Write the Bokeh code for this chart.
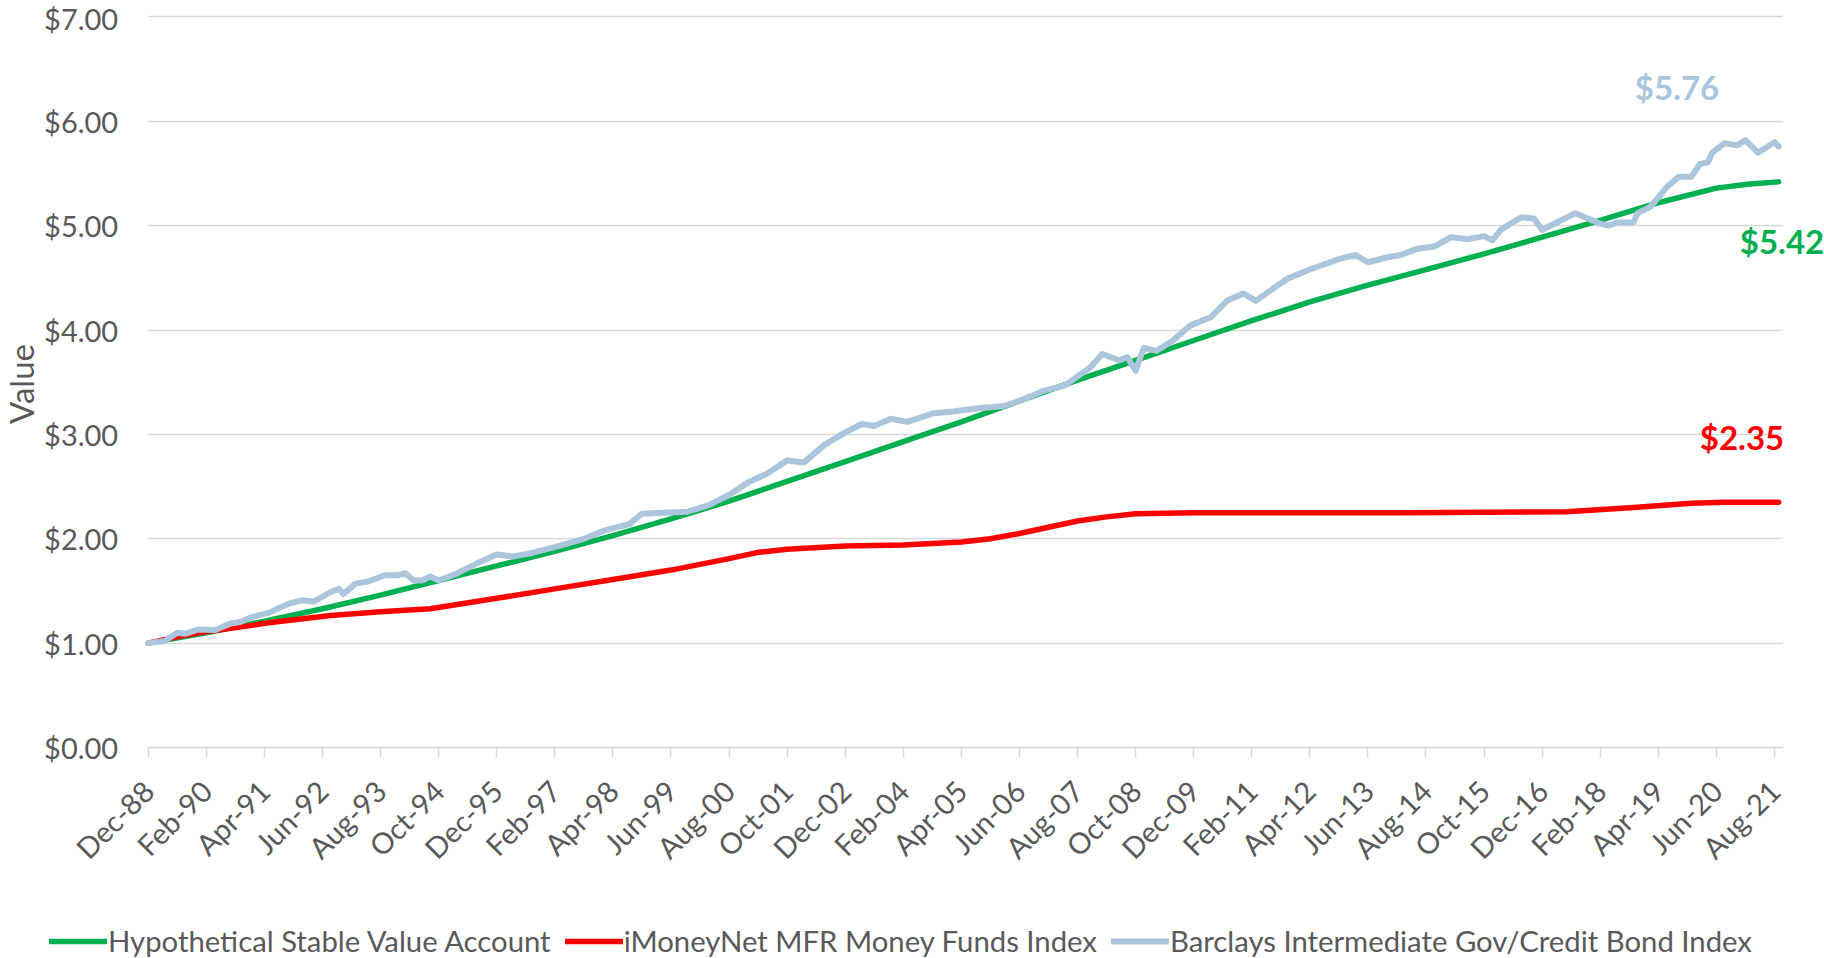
import math
from bokeh.plotting import figure
from bokeh.models import (Range1d, FixedTicker, NumeralTickFormatter, Legend,
                          LegendItem, Label)
from bokeh.embed import file_html
from bokeh.resources import INLINE

# ---------------- data (month index: 0 = Dec-88) ----------------
tick_labels = ["Dec-88", "Feb-90", "Apr-91", "Jun-92", "Aug-93", "Oct-94", "Dec-95",
               "Feb-97", "Apr-98", "Jun-99", "Aug-00", "Oct-01", "Dec-02", "Feb-04",
               "Apr-05", "Jun-06", "Aug-07", "Oct-08", "Dec-09", "Feb-11", "Apr-12",
               "Jun-13", "Aug-14", "Oct-15", "Dec-16", "Feb-18", "Apr-19", "Jun-20",
               "Aug-21"]
tick_step_months = 14

stable_months = [0, 14, 28, 42, 56, 70, 84, 98, 112, 126, 140, 154, 168, 182, 196,
                 210, 224, 238, 252, 266, 280, 294, 308, 322, 336, 350, 364, 378,
                 386, 393]
stable_values = [1.00, 1.10, 1.21, 1.33, 1.46, 1.60, 1.74, 1.88, 2.03, 2.19, 2.36,
                 2.55, 2.74, 2.93, 3.12, 3.32, 3.52, 3.71, 3.90, 4.09, 4.27, 4.43,
                 4.58, 4.73, 4.89, 5.05, 5.22, 5.36, 5.40, 5.42]

money_months = [0, 7, 14, 25, 28, 44, 56, 68, 84, 98, 112, 126, 140, 147, 154, 168,
                182, 196, 203, 210, 224, 231, 238, 252, 266, 302, 342, 358, 372, 380,
                393]
money_values = [1.00, 1.06, 1.11, 1.17, 1.19, 1.265, 1.30, 1.33, 1.43, 1.52, 1.61,
                1.70, 1.81, 1.87, 1.90, 1.93, 1.94, 1.97, 2.00, 2.05, 2.17, 2.21,
                2.24, 2.25, 2.25, 2.25, 2.26, 2.30, 2.34, 2.35, 2.35]

bond_months = [0, 4, 7, 9, 12, 16, 17, 20, 22, 25, 29, 32, 34, 37, 40, 44, 46, 47,
               50, 53, 57, 60, 62, 64, 66, 68, 70, 74, 79, 84, 88, 92, 98, 105, 110,
               116, 119, 124, 130, 135, 140, 145, 149, 154, 158, 163, 168, 172, 175,
               179, 183, 189, 194, 200, 206, 210, 216, 221, 227, 230, 234, 236, 238,
               240, 243, 247, 251, 254, 256, 260, 264, 267, 273, 275, 280, 287, 291,
               294, 299, 302, 306, 310, 314, 318, 322, 324, 326, 328, 331, 334, 336,
               337, 341, 344, 347, 350, 352, 354, 358, 359, 362, 364, 366, 369, 372,
               374, 376, 377, 380, 383, 385, 388, 390, 392, 393]
bond_values = [1.00, 1.02, 1.10, 1.09, 1.13, 1.125, 1.14, 1.19, 1.20, 1.25, 1.29,
               1.345, 1.38, 1.41, 1.40, 1.49, 1.52, 1.47, 1.57, 1.59, 1.65, 1.65,
               1.67, 1.60, 1.60, 1.64, 1.60, 1.66, 1.76, 1.85, 1.83, 1.86, 1.92,
               2.00, 2.08, 2.14, 2.24, 2.25, 2.26, 2.32, 2.42, 2.55, 2.62, 2.75,
               2.73, 2.90, 3.02, 3.10, 3.08, 3.15, 3.12, 3.20, 3.22, 3.25, 3.27,
               3.32, 3.42, 3.47, 3.64, 3.77, 3.71, 3.74, 3.61, 3.83, 3.80, 3.90,
               4.04, 4.09, 4.12, 4.28, 4.35, 4.28, 4.45, 4.50, 4.58, 4.68, 4.72,
               4.65, 4.70, 4.72, 4.78, 4.80, 4.89, 4.87, 4.90, 4.86, 4.96, 5.01,
               5.08, 5.07, 4.96, 4.98, 5.06, 5.12, 5.07, 5.02, 5.00, 5.03, 5.03,
               5.12, 5.18, 5.27, 5.37, 5.47, 5.47, 5.59, 5.61, 5.70, 5.79, 5.77,
               5.82, 5.70, 5.75, 5.80, 5.76]

series_names = ["Hypothetical Stable Value Account",
                "iMoneyNet MFR Money Funds Index",
                "Barclays Intermediate Gov/Credit Bond Index"]
y_ticks = [0, 1, 2, 3, 4, 5, 6, 7]
y_title = "Value"

# ---------------- geometry (pixels) ----------------
W, H = 1824, 958
X0_PX = 147.7        # pixel of month 0
PX_PER_MONTH = 4.1487
Y0_PX = 747.0        # pixel of $0
PX_PER_DOLLAR = 104.36
AXIS_END_PX = 1781.7
LEGEND_LEFT_PX = 49


def mx(px):
    return (px - X0_PX) / PX_PER_MONTH


def vy(py):
    return (Y0_PX - py) / PX_PER_DOLLAR


# ---------------- style ----------------
GREEN = "#00B050"
RED = "#FF0000"
BLUE = "#ABC5DD"
GREY_TXT = "#595959"
GRID = "#D9D9D9"
FONT = "Lato"

p = figure(width=W, height=H, x_range=Range1d(mx(0), mx(W)),
           y_range=Range1d(vy(H), vy(0)), output_backend="svg",
           toolbar_location=None, min_border=0, min_border_left=0,
           min_border_right=0, min_border_top=0, min_border_bottom=0,
           outline_line_color=None, background_fill_color="white",
           border_fill_color="white")

g = p.line(stable_months, stable_values, line_color=GREEN, line_width=5.5,
           line_join="round", line_cap="round")
r = p.line(money_months, money_values, line_color=RED, line_width=5.5,
           line_join="round", line_cap="round")
b = p.line(bond_months, bond_values, line_color=BLUE, line_width=6,
           line_join="round", line_cap="round")

x_end = mx(AXIS_END_PX)

# x axis
tick_pos = [i * tick_step_months for i in range(len(tick_labels))]
p.xaxis.fixed_location = 0
p.xaxis.bounds = (0, x_end)
p.xaxis.ticker = FixedTicker(ticks=tick_pos)
p.xaxis.major_label_overrides = {t: l for t, l in zip(tick_pos, tick_labels)}
p.xaxis.major_label_orientation = math.pi / 4
p.xaxis.axis_line_color = GRID
p.xaxis.axis_line_width = 1.5
p.xaxis.major_tick_line_color = GRID
p.xaxis.major_tick_line_width = 1.5
p.xaxis.major_tick_out = 10
p.xaxis.major_tick_in = 0
p.xaxis.minor_tick_line_color = None
p.xaxis.major_label_standoff = 28
p.xaxis.major_label_text_font = FONT
p.xaxis.major_label_text_font_size = "29px"
p.xaxis.major_label_text_color = GREY_TXT

# y axis
p.yaxis.fixed_location = 0
p.yaxis.bounds = (0, 7)
p.yaxis.ticker = FixedTicker(ticks=y_ticks)
p.yaxis.formatter = NumeralTickFormatter(format="$0.00")
p.yaxis.axis_line_color = None
p.yaxis.major_tick_line_color = None
p.yaxis.minor_tick_line_color = None
p.yaxis.major_label_standoff = 24
p.yaxis.major_label_text_font = FONT
p.yaxis.major_label_text_font_size = "29px"
p.yaxis.major_label_text_color = GREY_TXT

p.xgrid.grid_line_color = None
p.ygrid.grid_line_color = GRID
p.ygrid.grid_line_width = 1.5
p.ygrid.ticker = FixedTicker(ticks=y_ticks)
p.ygrid.bounds = (0, 7)
p.ygrid.cross_bounds = (0, x_end)

# y axis title
p.add_layout(Label(x=mx(20), y=vy(383.5), text=y_title, angle=math.pi / 2,
                   text_align="center", text_baseline="middle",
                   text_font=FONT, text_font_size="33px", text_color=GREY_TXT))

# end-value labels
for xs, ys, col, dx, dy in [(bond_months, bond_values, BLUE, -101.6, 59.0),
                            (stable_months, stable_values, GREEN, 3.4, -59.6),
                            (money_months, money_values, RED, -36.6, 65.3)]:
    p.add_layout(Label(x=xs[-1], y=ys[-1], text=f"${ys[-1]:.2f}", x_offset=dx,
                       y_offset=dy, text_align="center", text_baseline="middle",
                       text_font=FONT, text_font_style="bold",
                       text_font_size="33px", text_color=col))

legend = Legend(items=[LegendItem(label=series_names[0], renderers=[g]),
                       LegendItem(label=series_names[1], renderers=[r]),
                       LegendItem(label=series_names[2], renderers=[b])],
                orientation="horizontal", location=(LEGEND_LEFT_PX, 0),
                glyph_width=58, glyph_height=20, label_standoff=1, spacing=14,
                padding=0, margin=0, border_line_color=None,
                background_fill_alpha=0, label_text_font=FONT,
                label_text_font_size="29.3px", label_text_color=GREY_TXT)
p.add_layout(legend, "center")

open("out.html", "w").write(file_html(p, INLINE))
